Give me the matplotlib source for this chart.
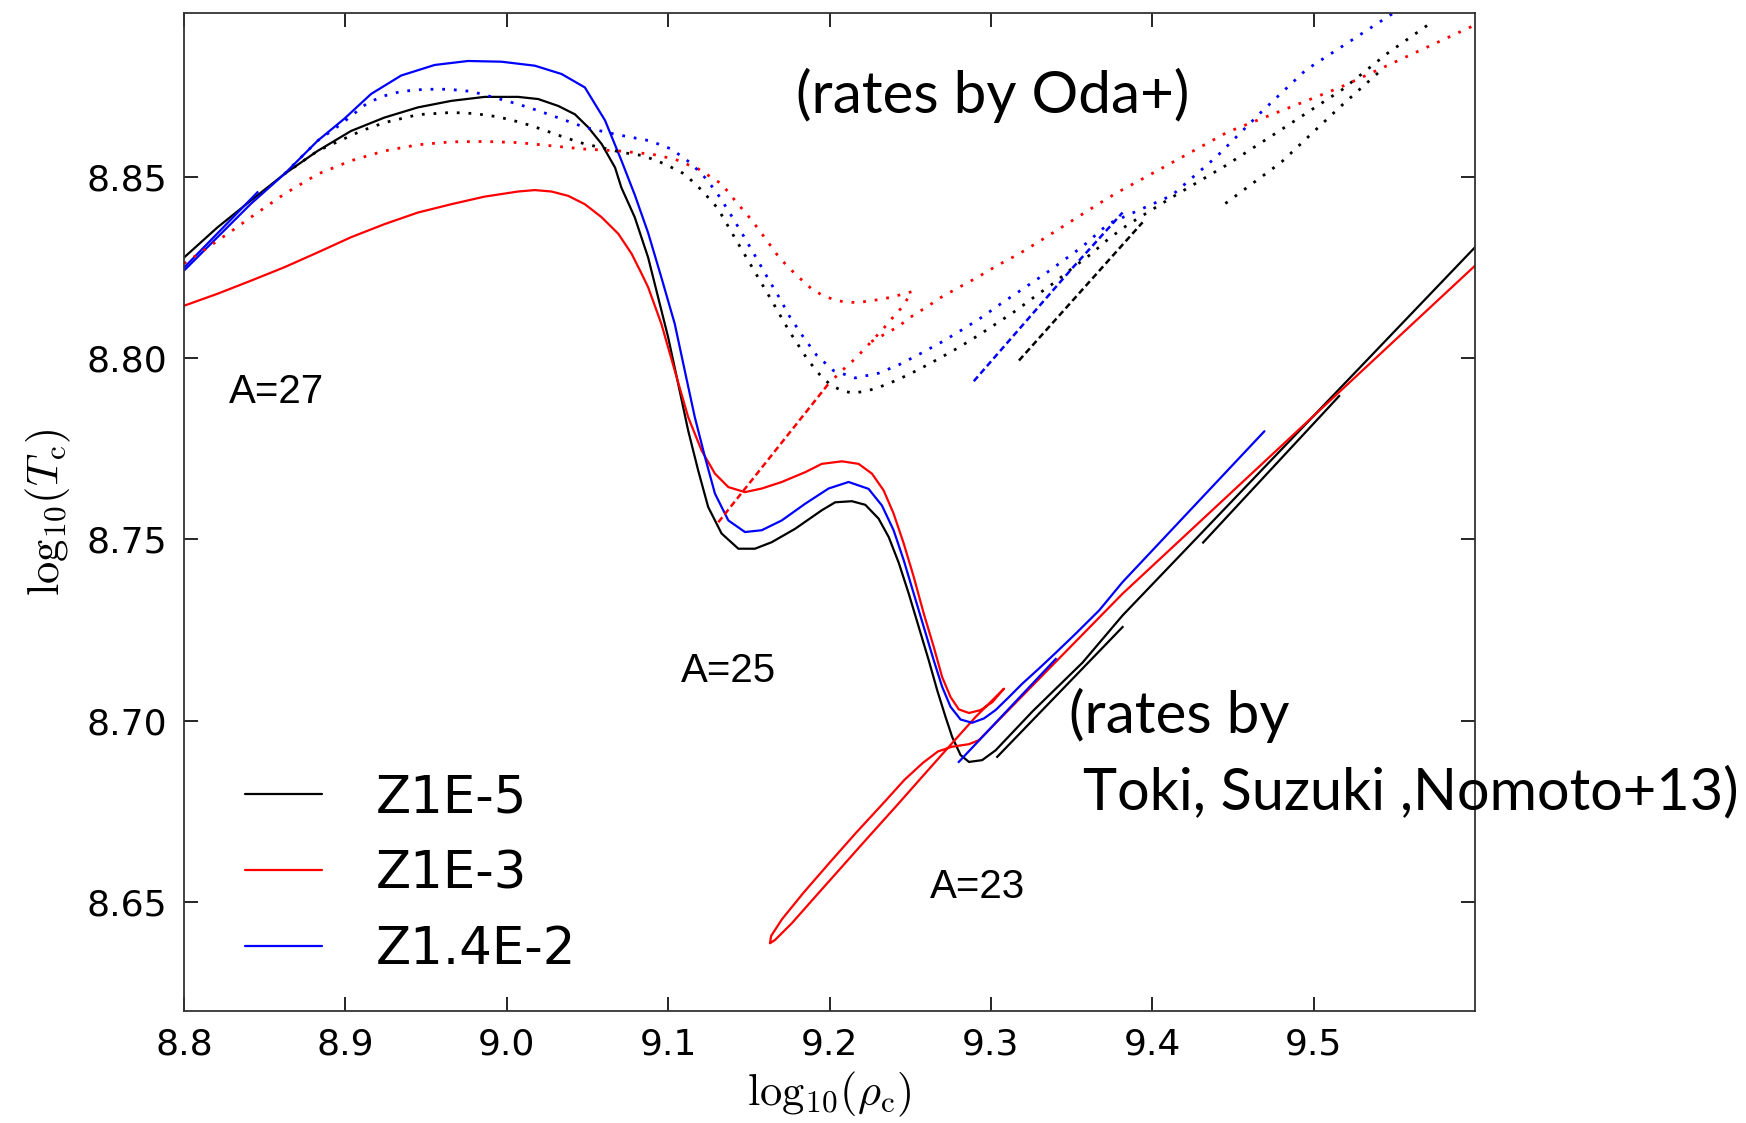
import matplotlib
matplotlib.use("Agg")
import matplotlib.pyplot as plt

plt.rcParams['mathtext.fontset'] = 'cm'

# ---- solid tracks: rates by Toki, Suzuki, Nomoto+13 ----
z5_x = [8.800, 8.8207, 8.8414, 8.8621, 8.8828, 8.9035, 8.9242, 8.9449, 8.9656, 8.9863,
        9.0070, 9.0195, 9.0319, 9.0422, 9.0505, 9.0588, 9.0671, 9.0710, 9.0793, 9.0876,
        9.0938, 9.1000, 9.1062, 9.1124, 9.1186, 9.1248, 9.1331, 9.1435, 9.1538, 9.1642,
        9.1787, 9.1952, 9.2035, 9.2139, 9.2222, 9.2304, 9.2367, 9.2429, 9.2491, 9.2553,
        9.2615, 9.2667, 9.2719, 9.2760, 9.2812, 9.2864, 9.2946, 9.3029, 9.3257, 9.3568,
        9.3816, 9.6023]
z5_y = [8.8277, 8.8360, 8.8434, 8.8507, 8.8571, 8.8626, 8.8663, 8.8691, 8.8709, 8.8720,
        8.8720, 8.8714, 8.8695, 8.8672, 8.8636, 8.8590, 8.8525, 8.8470, 8.8388, 8.8277,
        8.8167, 8.8057, 8.7929, 8.7800, 8.7690, 8.7589, 8.7516, 8.7474, 8.7474, 8.7492,
        8.7529, 8.7580, 8.7602, 8.7605, 8.7595, 8.7557, 8.7506, 8.7435, 8.7350, 8.7258,
        8.7166, 8.7084, 8.7010, 8.6955, 8.6905, 8.6886, 8.6891, 8.6918, 8.7025, 8.7160,
        8.7290, 8.8316]
z5_seg2_x = [9.3039, 9.3816]
z5_seg2_y = [8.6900, 8.7258]
z5_seg3_x = [9.4315, 9.5158]
z5_seg3_y = [8.7491, 8.7895]

z3_x = [8.800, 8.8207, 8.8414, 8.8621, 8.8828, 8.9035, 8.9242, 8.9449, 8.9656, 8.9863,
        9.0070, 9.0174, 9.0277, 9.0381, 9.0484, 9.0588, 9.0692, 9.0774, 9.0836, 9.0876,
        9.0958, 9.1041, 9.1124, 9.1207, 9.1290, 9.1373, 9.1476, 9.1580, 9.1704, 9.1849,
        9.1952, 9.2077, 9.2180, 9.2263, 9.2335, 9.2397, 9.2460, 9.2522, 9.2584, 9.2646,
        9.2698, 9.2750, 9.2801, 9.2864, 9.2936, 9.3009, 9.3081,
        9.2905, 9.2740, 9.2574, 9.2409, 9.2243, 9.2077, 9.1911, 9.1766, 9.1662, 9.1631,
        9.1638, 9.1705, 9.1840, 9.2000, 9.2165, 9.2335, 9.2465, 9.2580, 9.2672, 9.2760,
        9.2864, 9.2926, 9.3816, 9.6023]
z3_y = [8.8144, 8.8177, 8.8213, 8.8250, 8.8291, 8.8333, 8.8369, 8.8401, 8.8424, 8.8445,
        8.8459, 8.8463, 8.8459, 8.8447, 8.8424, 8.8388, 8.8342, 8.8287, 8.8232, 8.8195,
        8.8094, 8.7965, 8.7837, 8.7745, 8.7681, 8.7644, 8.7630, 8.7640, 8.7658, 8.7685,
        8.7708, 8.7715, 8.7708, 8.7681, 8.7635, 8.7571, 8.7488, 8.7396, 8.7295, 8.7203,
        8.7120, 8.7065, 8.7031, 8.7021, 8.7029, 8.7051, 8.7088,
        8.7010, 8.6928, 8.6845, 8.6762, 8.6680, 8.6597, 8.6514, 8.6441, 8.6395, 8.6386,
        8.6406, 8.6452, 8.6526, 8.6608, 8.6691, 8.6773, 8.6837, 8.6884, 8.6915, 8.6928,
        8.6935, 8.6946, 8.7350, 8.8264]

z14_x = [8.800, 8.8207, 8.8414, 8.8621, 8.8828, 8.8994, 8.9159, 8.9346, 8.9553, 8.9760,
         8.9967, 9.0174, 9.0340, 9.0484, 9.0609, 9.0710, 9.0793, 9.0876, 9.0958, 9.1041,
         9.1103, 9.1165, 9.1228, 9.1290, 9.1373, 9.1476, 9.1580, 9.1704, 9.1849, 9.1994,
         9.2118, 9.2242, 9.2325, 9.2397, 9.2460, 9.2522, 9.2584, 9.2646, 9.2698, 9.2750,
         9.2812, 9.2884, 9.2957, 9.3029, 9.3112, 9.3195, 9.3299, 9.3402, 9.3526, 9.3671,
         9.3816, 9.4695]
z14_y = [8.8241, 8.8333, 8.8425, 8.8507, 8.8599, 8.8660, 8.8728, 8.8779, 8.8808, 8.8819,
         8.8817, 8.8806, 8.8783, 8.8746, 8.8655, 8.8545, 8.8450, 8.8345, 8.8222, 8.8094,
         8.7965, 8.7837, 8.7727, 8.7626, 8.7552, 8.7520, 8.7525, 8.7552, 8.7598, 8.7640,
         8.7658, 8.7639, 8.7593, 8.7525, 8.7442, 8.7350, 8.7258, 8.7166, 8.7093, 8.7038,
         8.7003, 8.6994, 8.7006, 8.7029, 8.7065, 8.7102, 8.7144, 8.7187, 8.7240, 8.7304,
         8.7382, 8.7798]
z14_seg2_x = [9.2801, 9.3402]
z14_seg2_y = [8.6886, 8.7170]
z14_left_x = [8.800, 8.8455]
z14_left_y = [8.8249, 8.8457]

# ---- dotted / dashed tracks: rates by Oda+ ----
z5_oda_x = [8.8621, 8.8828, 8.9097, 8.9242, 8.9449, 8.9656, 8.9801, 8.9946, 9.0091, 9.0215,
            9.0360, 9.0484, 9.0629, 9.0710, 9.0845, 9.0979, 9.1103, 9.1207, 9.1307, 9.1424,
            9.1534, 9.1642, 9.1749, 9.1865, 9.1952, 9.2010, 9.2076, 9.2144, 9.2217, 9.2289,
            9.2418, 9.2548, 9.2677, 9.2801, 9.2921, 9.3045, 9.3163, 9.3277, 9.3397, 9.3505,
            9.3619, 9.3733, 9.3847, 9.4111, 9.4453, 9.4766, 9.5177, 9.5457, 9.5739]
z5_oda_y = [8.8507, 8.8571, 8.8626, 8.8649, 8.8671, 8.8677, 8.8674, 8.8665, 8.8649, 8.8631,
            8.8608, 8.8590, 8.8576, 8.8567, 8.8558, 8.8535, 8.8507, 8.8463, 8.8413, 8.8323,
            8.8240, 8.8158, 8.8075, 8.7995, 8.7947, 8.7925, 8.7910, 8.7903, 8.7908, 8.7916,
            8.7939, 8.7967, 8.7998, 8.8029, 8.8062, 8.8098, 8.8133, 8.8171, 8.8209, 8.8248,
            8.8286, 8.8330, 8.8367, 8.8440, 8.8530, 8.8620, 8.8740, 8.8840, 8.8928]
z5_oda2_x = [9.4453, 9.4800, 9.5158, 9.5434]
z5_oda2_y = [8.8426, 8.8540, 8.8690, 8.8800]
z5_oda_dash_x = [9.3174, 9.3940]
z5_oda_dash_y = [8.7993, 8.8374]

z3_oda_x = [8.800, 8.8269, 8.8414, 8.8621, 8.8828, 8.9035, 8.9242, 8.9449, 8.9656, 8.9863,
            9.0070, 9.0277, 9.0484, 9.0692, 9.0899, 9.1043, 9.1188, 9.1331, 9.1424, 9.1518,
            9.1600, 9.1683, 9.1735, 9.1787, 9.1838, 9.1890, 9.1952, 9.2025, 9.2087, 9.2159,
            9.2232, 9.2304, 9.2377, 9.2445, 9.2511,
            9.2450, 9.2402, 9.2356, 9.2259, 9.2159, 9.2077, 9.1994]
z3_oda_y = [8.8260, 8.8342, 8.8388, 8.8452, 8.8507, 8.8544, 8.8571, 8.8588, 8.8596, 8.8597,
            8.8594, 8.8585, 8.8576, 8.8571, 8.8562, 8.8548, 8.8521, 8.8480, 8.8429, 8.8380,
            8.8331, 8.8280, 8.8255, 8.8232, 8.8211, 8.8190, 8.8174, 8.8161, 8.8155, 8.8153,
            8.8156, 8.8161, 8.8167, 8.8175, 8.8183,
            8.8140, 8.8117, 8.8092, 8.8045, 8.7998, 8.7965, 8.7929]
z3_oda2_x = [9.2259, 9.2428, 9.2490, 9.2548, 9.2610, 9.2666, 9.2791, 9.2915, 9.3039, 9.3174,
             9.3298, 9.3412, 9.3536, 9.3660, 9.3774, 9.3898, 9.4467, 9.5158, 9.6023]
z3_oda2_y = [8.8045, 8.8087, 8.8109, 8.8126, 8.8142, 8.8161, 8.8192, 8.8222, 8.8255, 8.8287,
             8.8321, 8.8353, 8.8388, 8.8423, 8.8454, 8.8484, 8.8623, 8.8745, 8.8923]
z3_oda_dash_x = [9.1311, 9.1994]
z3_oda_dash_y = [8.7547, 8.7929]

z14_oda_x = [8.8621, 8.8828, 8.8973, 8.9139, 8.9242, 8.9346, 8.9491, 8.9636, 8.9781, 8.9925,
             9.0070, 9.0195, 9.0340, 9.0484, 9.0671, 9.0886, 9.1021, 9.1141, 9.1238, 9.1321,
             9.1398, 9.1472, 9.1545, 9.1615, 9.1688, 9.1756, 9.1839, 9.1921, 9.2025, 9.2159,
             9.2304, 9.2429, 9.2559, 9.2691, 9.2811, 9.2936, 9.3050, 9.3339, 9.3567, 9.3728,
             9.4120, 9.4398, 9.4675, 9.4951, 9.5504]
z14_oda_y = [8.8507, 8.8599, 8.8645, 8.8704, 8.8723, 8.8735, 8.8741, 8.8741, 8.8735, 8.8718,
             8.8700, 8.8682, 8.8659, 8.8636, 8.8617, 8.8599, 8.8576, 8.8537, 8.8493, 8.8443,
             8.8388, 8.8333, 8.8277, 8.8222, 8.8167, 8.8112, 8.8057, 8.8007, 8.7965, 8.7945,
             8.7958, 8.7981, 8.8011, 8.8043, 8.8075, 8.8110, 8.8146, 8.8233, 8.8307, 8.8370,
             8.8448, 8.8555, 8.8678, 8.8794, 8.8954]
z14_oda_dash_x = [9.2894, 9.3505, 9.3816]
z14_oda_dash_y = [8.7936, 8.8248, 8.8401]

labels = ['Z1E-5', 'Z1E-3', 'Z1.4E-2']

fig = plt.figure(figsize=(17.46, 11.23), dpi=100)
ax = fig.add_axes([0.1054, 0.100, 0.7394, 0.888])

lw = 1.6
dlw = 2.0
dot = (0, (1, 3.2))
dash = (0, (2.5, 1.5))
kw = dict(solid_joinstyle='round', solid_capstyle='round')

ax.plot(z5_x, z5_y, color='black', lw=lw, label=labels[0], **kw)
ax.plot(z3_x, z3_y, color='red', lw=lw, label=labels[1], **kw)
ax.plot(z14_x, z14_y, color='blue', lw=lw, label=labels[2], **kw)
ax.plot(z5_seg2_x, z5_seg2_y, color='black', lw=lw)
ax.plot(z5_seg3_x, z5_seg3_y, color='black', lw=lw)
ax.plot(z14_seg2_x, z14_seg2_y, color='blue', lw=lw)
ax.plot(z14_left_x, z14_left_y, color='blue', lw=lw)

ax.plot(z5_oda_x, z5_oda_y, color='black', lw=dlw, ls=dot)
ax.plot(z5_oda2_x, z5_oda2_y, color='black', lw=dlw, ls=dot)
ax.plot(z5_oda_dash_x, z5_oda_dash_y, color='black', lw=1.8, ls=dash)
ax.plot(z3_oda_x, z3_oda_y, color='red', lw=dlw, ls=dot)
ax.plot(z3_oda2_x, z3_oda2_y, color='red', lw=dlw, ls=dot)
ax.plot(z3_oda_dash_x, z3_oda_dash_y, color='red', lw=1.8, ls=dash)
ax.plot(z14_oda_x, z14_oda_y, color='blue', lw=dlw, ls=dot)
ax.plot(z14_oda_dash_x, z14_oda_dash_y, color='blue', lw=1.8, ls=dash)

ax.set_xlim(8.8, 9.6)
ax.set_ylim(8.62, 8.895)
ax.set_xticks([8.8, 8.9, 9.0, 9.1, 9.2, 9.3, 9.4, 9.5])
ax.set_xticklabels(['8.8', '8.9', '9.0', '9.1', '9.2', '9.3', '9.4', '9.5'])
ax.set_yticks([8.65, 8.70, 8.75, 8.80, 8.85])
ax.set_yticklabels(['8.65', '8.70', '8.75', '8.80', '8.85'])
ax.tick_params(direction='in', length=10, width=1.2, labelsize=26, pad=12,
               top=True, right=True)
for s in ax.spines.values():
    s.set_linewidth(1.3)
    s.set_color('#333333')

ax.set_xlabel(r'$\mathrm{log_{10}}(\rho_{\rm c})$', fontsize=32, labelpad=6)
ax.set_ylabel(r'$\mathrm{log_{10}}(T_{\rm c})$', fontsize=32, labelpad=10)

ax.legend(loc='lower left', bbox_to_anchor=(0.047, 0.036), frameon=False,
          fontsize=37, handlelength=1.5, handletextpad=1.05, labelspacing=0.5,
          borderpad=0, borderaxespad=0)

for txt, tx, ty in [('A=27', 8.828, 8.7905), ('A=25', 9.1078, 8.7138), ('A=23', 9.262, 8.654)]:
    ax.text(tx, ty, txt, fontsize=29, family='Liberation Sans', va='center', ha='left')

fig.text(796 / 1746, 1 - 95 / 1123, '(rates by Oda+)', fontsize=42, family='Lato',
         va='center', ha='left')
fig.text(1069 / 1746, 1 - 715 / 1123, '(rates by', fontsize=42, family='Lato',
         va='center', ha='left')
fig.text(1083 / 1746, 1 - 793 / 1123, 'Toki, Suzuki ,Nomoto+13)', fontsize=41.5,
         family='Lato', va='center', ha='left')

fig.savefig('out.png', dpi=100)
